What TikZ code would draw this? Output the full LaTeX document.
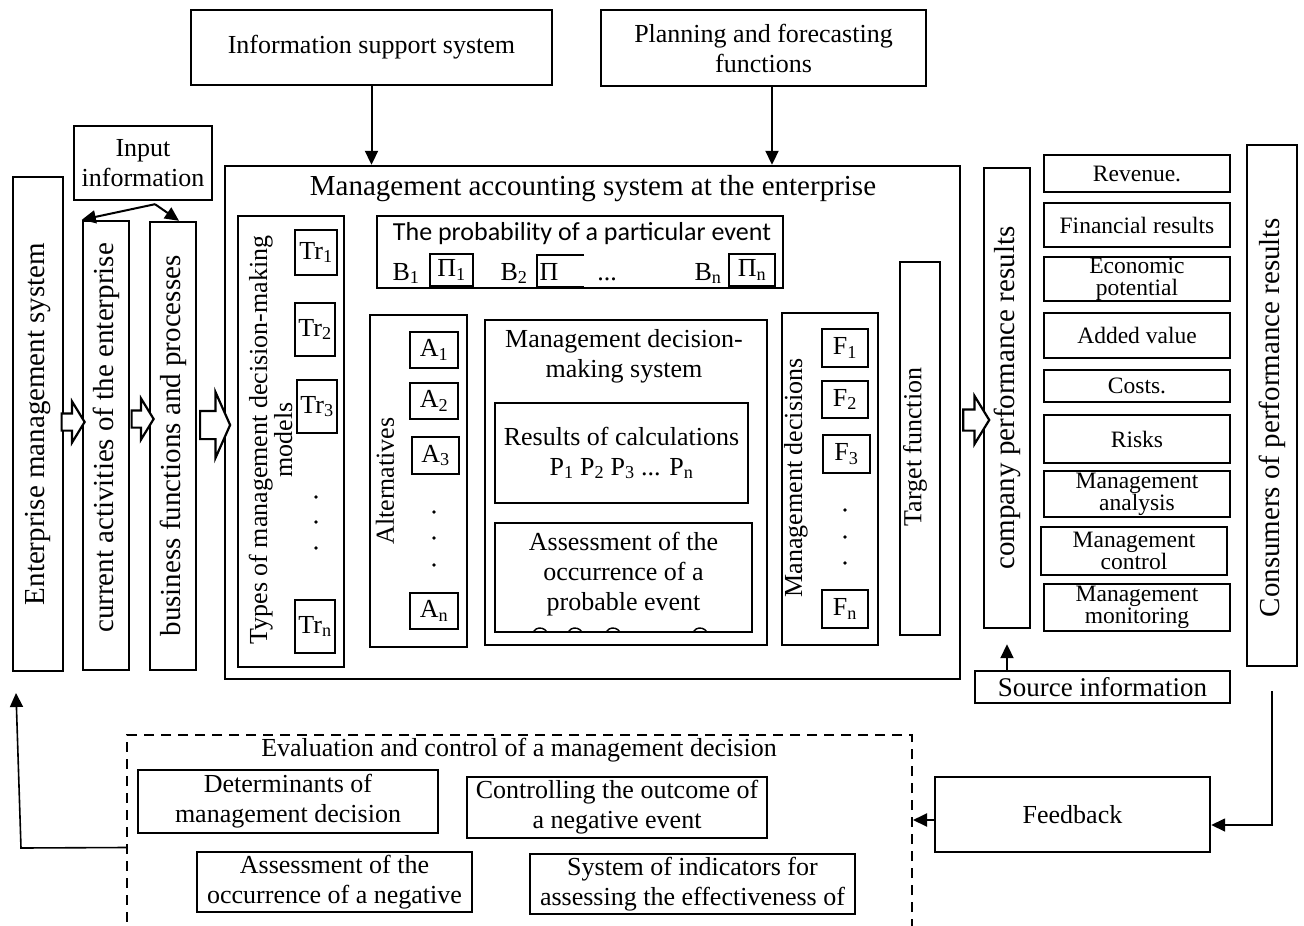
\documentclass[tikz,border=0pt]{standalone}
\usepackage{fontspec}
\setmainfont{Liberation Serif}
\newfontfamily\calibrifont{Carlito}
\usetikzlibrary{arrows.meta, shapes.arrows}

\begin{document}
\begin{tikzpicture}[
    x=1pt, y=-1pt,
    >={Triangle[length=14pt, width=13pt]},
    line width=2pt,
    box/.style={draw, line width=2.4pt, inner sep=0pt, align=center,
        font=\fontsize{26}{30}\selectfont},
    rbox/.style={box, minimum width=186pt, font=\fontsize{23.5}{22}\selectfont},
    sub/.style={box, line width=2.2pt},
    txt/.style={inner sep=0pt, align=center, font=\fontsize{26}{30}\selectfont},
    vtxt/.style={txt, rotate=90},
    bigtxt/.style={font=\fontsize{29}{32}\selectfont},
    fatarrow/.style={single arrow, draw, fill=white, line width=2.2pt, inner sep=0pt,
        text width=0pt, text height=7.5pt, text depth=7.5pt,
        single arrow head extend=12pt, single arrow tip angle=117}
]
\useasboundingbox (0,0) rectangle (1304,926);
\clip (0,0) rectangle (1304,926);

% top boxes
\node[box, minimum width=361pt, minimum height=75pt] (info) at (371.5,47.5) {Information support system};
\node[box, minimum width=325pt, minimum height=76pt] (plan) at (763.5,48) {Planning and forecasting\\functions};
\node[box, minimum width=138pt, minimum height=74pt] (input) at (143,163) {Input\\information};

% left column
\node[box, minimum width=50pt, minimum height=494pt] (ems) at (38,424) {};
\node[vtxt, bigtxt] at (ems) {Enterprise management system};
\node[box, minimum width=46pt, minimum height=449pt] (current) at (106,445.5) {};
\node[vtxt, bigtxt] at (106,438) {current activities of the enterprise};
\node[box, minimum width=46pt, minimum height=448pt] (business) at (173,446) {};
\node[vtxt, bigtxt] at (business) {business functions and processes};

% management accounting system
\node[box, minimum width=735pt, minimum height=513pt] (mas) at (592.5,422.5) {};
\node[txt, bigtxt] (mastitle) at (593,189) {Management accounting system at the enterprise};

\node[box, minimum width=106pt, minimum height=451pt] (types) at (291,441.5) {};
\node[vtxt, font=\fontsize{26}{25}\selectfont] at (270.5,440) {Types of management decision-making\\models};
\node[sub, minimum width=42pt, minimum height=45pt] (tr1) at (316,252.5) {Tr\textsubscript{1}};
\node[sub, minimum width=40pt, minimum height=53pt] (tr2) at (315,329.5) {Tr\textsubscript{2}};
\node[sub, minimum width=40pt, minimum height=53pt] (tr3) at (317,406.5) {Tr\textsubscript{3}};
\node[sub, minimum width=40pt, minimum height=53pt] (trn) at (315,626.5) {Tr\textsubscript{n}};
\foreach \y in {497,522,548} \fill (316,\y) circle[radius=1.8pt];

% probability
\node[box, minimum width=406pt, minimum height=72pt] (prob) at (580,252) {};
\node[txt, font=\calibrifont\fontsize{26}{30}\selectfont] (probtitle) at (582,234) {The probability of a particular event};
\node[txt, anchor=base] (b1) at (406,280) {B\textsubscript{1}};
\node[sub, minimum width=43pt, minimum height=32pt] (pi1) at (451.5,270) {Π\textsubscript{1}};
\node[txt, anchor=base] (b2) at (514,280) {B\textsubscript{2}};
\node[txt, anchor=base] (pi2) at (549,280) {Π};
\draw (584,255) -| (537,287) -- (584,287);
\node[txt, anchor=base] (bdots) at (607,280) {...};
\node[txt, anchor=base] (bn) at (708,280) {B\textsubscript{n}};
\node[sub, minimum width=46pt, minimum height=32pt] (pin) at (752,270) {Π\textsubscript{n}};

% alternatives
\node[box, minimum width=97pt, minimum height=332pt] (alt) at (418.5,481) {};
\node[vtxt] at (385,481) {Alternatives};
\node[sub, minimum width=48pt, minimum height=36pt] (a1) at (434,350) {A\textsubscript{1}};
\node[sub, minimum width=48pt, minimum height=36pt] (a2) at (434,401) {A\textsubscript{2}};
\node[sub, minimum width=47pt, minimum height=37pt] (a3) at (435.5,455.5) {A\textsubscript{3}};
\node[sub, minimum width=48pt, minimum height=36pt] (an) at (434,611) {A\textsubscript{n}};
\foreach \y in {512,538,565} \fill (434,\y) circle[radius=1.8pt];

% decision-making system
\node[box, minimum width=282pt, minimum height=325pt] (dms) at (626,482.5) {};
\node[txt] at (624,356) {Management decision-\\making system};
\node[box, minimum width=253pt, minimum height=100pt] (results) at (621.5,453) {Results of calculations\\P\textsubscript{1} P\textsubscript{2} P\textsubscript{3} ... P\textsubscript{n}};
\node[box, minimum width=257pt, minimum height=109pt] (assess) at (623.5,577.5) {};
\node[txt] at (623.5,574) {Assessment of the\\occurrence of a\\probable event};
\foreach \x in {540,575,613,700} \draw[line width=1.4pt] (\x+6.9,632) arc[start angle=30, end angle=150, radius=8pt];

% management decisions
\node[box, minimum width=96pt, minimum height=332pt] (decisions) at (830,479) {};
\node[vtxt] at (796,478) {Management decisions};
\node[sub, minimum width=46pt, minimum height=38pt] (f1) at (845,348) {F\textsubscript{1}};
\node[sub, minimum width=46pt, minimum height=37pt] (f2) at (845,399.5) {F\textsubscript{2}};
\node[sub, minimum width=47pt, minimum height=38pt] (f3) at (846.5,454) {F\textsubscript{3}};
\node[sub, minimum width=46pt, minimum height=38pt] (fn) at (845,609) {F\textsubscript{n}};
\foreach \y in {510,537,563} \fill (845,\y) circle[radius=1.8pt];

\node[box, minimum width=40pt, minimum height=373pt] (target) at (920,448.5) {};
\node[vtxt] at (915,447) {Target function};

% results side
\node[box, minimum width=46pt, minimum height=460pt] (perf) at (1007,398) {};
\node[vtxt, bigtxt] at (perf) {company performance results};

\node[rbox, minimum height=37pt] (revenue) at (1137,173.5) {Revenue.};
\node[rbox, minimum height=44pt] (finres) at (1137,225) {Financial results};
\node[rbox, minimum height=44pt] (econ) at (1137,279) {Economic\\potential};
\node[rbox, minimum height=45pt] (added) at (1137,335.5) {Added value};
\node[rbox, minimum height=32pt] (costs) at (1137,386) {Costs.};
\node[rbox, minimum height=48pt] (risks) at (1137,439) {Risks};
\node[rbox, minimum height=46pt] (analysis) at (1137,494) {Management\\analysis};
\node[rbox, minimum height=48pt] (control) at (1134,551) {Management\\control};
\node[rbox, minimum height=47pt] (monitoring) at (1137,607.5) {Management\\monitoring};

\node[box, minimum width=50pt, minimum height=521pt] (consumers) at (1272,405.5) {};
\node[vtxt, bigtxt] at (1272,418) {Consumers of performance results};

\node[box, minimum width=255pt, minimum height=32pt, font=\fontsize{27}{30}\selectfont] (source) at (1102.5,687) {Source information};

% evaluation and control
\node[draw, dash pattern=on 10pt off 7pt, line width=2pt, inner sep=0pt,
    minimum width=785pt, minimum height=225pt] (evalbox) at (519.5,847.5) {};
\node[txt] (evaltitle) at (519,750) {Evaluation and control of a management decision};
\node[box, minimum width=300pt, minimum height=63pt] (determ) at (288,801.5) {Determinants of\\management decision};
\node[box, minimum width=300pt, minimum height=61pt] (outcome) at (617,807.5) {Controlling the outcome of\\a negative event};
\node[box, minimum width=275pt, minimum height=60pt] (negassess) at (334.5,882) {Assessment of the\\occurrence of a negative};
\node[box, minimum width=325pt, minimum height=60pt] (indicators) at (692.5,884) {System of indicators for\\assessing the effectiveness of};

\node[box, minimum width=275pt, minimum height=75pt] (feedback) at (1072.5,814.5) {Feedback};

% block arrows
\node[fatarrow, minimum height=23pt] (ar1) at (70.5,422) {};
\node[fatarrow, minimum height=22pt] (ar2) at (140,419) {};
\node[fatarrow, minimum height=30pt, text height=13pt, text depth=13pt,
    single arrow head extend=19pt, single arrow tip angle=132] (ar3) at (212,425) {};
\node[fatarrow, minimum height=26pt, text height=9.5pt, text depth=9.5pt,
    single arrow head extend=13.5pt] (ar4) at (973,420) {};

% connectors
\coordinate (bend) at (21,848);
\coordinate (back) at (16,693);
\draw[->] (info) -- (info |- mas.north);
\draw[->] ([xshift=8.5pt]plan.south) -- ([xshift=8.5pt]plan.south |- mas.north);
\draw[->] ([xshift=12pt,yshift=-3pt]input.south) -- (current.north west);
\draw[->] ([xshift=12pt,yshift=-3pt]input.south) -- ([xshift=6pt]business.north);
\draw[->] (source.north -| perf) -- ([yshift=-15pt]perf.south);
\draw[->, line width=1.6pt] ([yshift=-24pt]consumers.south) |- ([yshift=-10.5pt]feedback.east);
\draw[->] ([yshift=-5.5pt]feedback.west) -- ([yshift=-5.5pt]feedback.west -| evalbox.east);
\draw[->, line width=1.6pt] (evalbox.west) -- (bend) -- (back);

\end{tikzpicture}
\end{document}
